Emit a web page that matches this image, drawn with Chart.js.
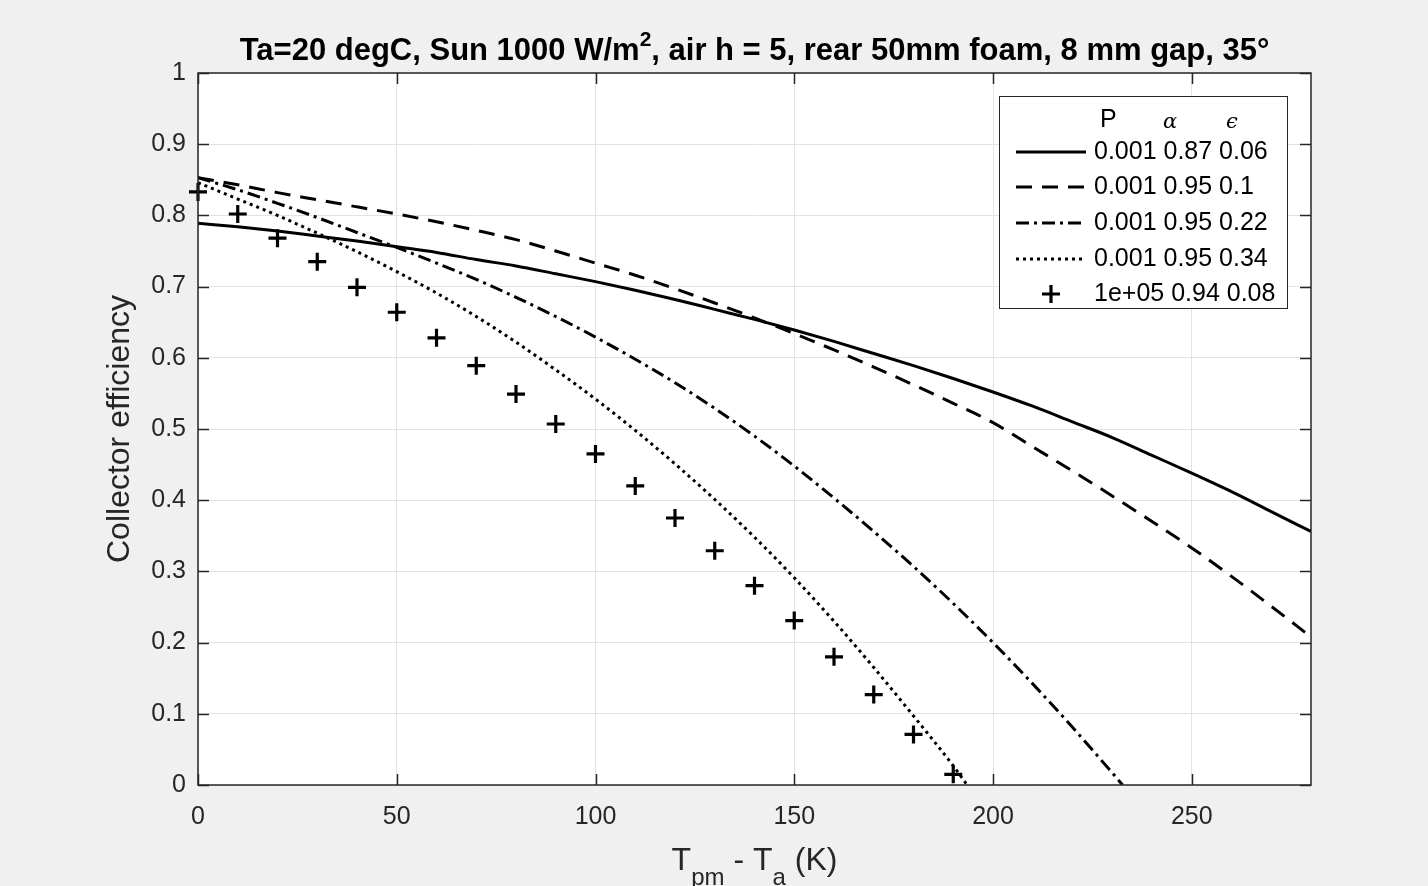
<!DOCTYPE html>
<html><head><meta charset="utf-8">
<script src="https://cdn.jsdelivr.net/npm/chart.js@4.4.1/dist/chart.umd.min.js"></script>
<style>html,body{margin:0;padding:0;background:#f0f0f0;overflow:hidden}</style>
</head><body>
<canvas id="c" width="1428" height="886"></canvas>
<script>
// ---- data ----
const tempDiff = [0,10,20,30,40,50,60,70,80,90,100,110,120,130,140,150,160,170,180,190,200,210,220,230,240,250,260,270,280];
const effSolid = [0.789,0.784,0.778,0.771,0.764,0.756,0.748,0.738,0.729,0.718,0.707,0.695,0.682,0.668,0.654,0.639,0.623,0.606,0.589,0.571,0.552,0.532,0.510,0.488,0.463,0.438,0.412,0.384,0.356];
const effDashed = [0.853,0.843,0.832,0.822,0.812,0.802,0.791,0.779,0.766,0.750,0.733,0.716,0.697,0.677,0.656,0.634,0.611,0.587,0.562,0.536,0.509,0.475,0.441,0.406,0.370,0.333,0.293,0.251,0.208];
const dashDotX = [0,10,20,30,40,50,60,70,80,90,100,110,120,130,140,150,160,170,180,190,200,210,220,230,232.6];
const effDashDot = [0.853,0.836,0.817,0.797,0.776,0.755,0.733,0.710,0.685,0.658,0.629,0.598,0.565,0.529,0.490,0.448,0.403,0.356,0.307,0.255,0.200,0.142,0.081,0.017,0.0];
const dottedX = [0,10,20,30,40,50,60,70,80,90,100,110,120,130,140,150,160,170,180,190,193.5];
const effDotted = [0.846,0.823,0.800,0.775,0.749,0.721,0.691,0.658,0.622,0.583,0.542,0.498,0.451,0.401,0.348,0.291,0.230,0.165,0.097,0.027,0.0];
const crossX = [0,10,20,30,40,50,60,70,80,90,100,110,120,130,140,150,160,170,180,190];
const effCross = [0.833,0.802,0.768,0.735,0.699,0.664,0.628,0.589,0.549,0.507,0.465,0.420,0.375,0.329,0.280,0.231,0.180,0.127,0.071,0.015];
const legendP = ['0.001','0.001','0.001','0.001','1e+05'];
const legendAlpha = ['0.87','0.95','0.95','0.95','0.94'];
const legendEps = ['0.06','0.1','0.22','0.34','0.08'];
const xTicks = [0,50,100,150,200,250];
const yTicks = [0,0.1,0.2,0.3,0.4,0.5,0.6,0.7,0.8,0.9,1];
const titleMain = 'Ta=20 degC, Sun 1000 W/m';
const titleSup = '2';
const titleRest = ', air h = 5, rear 50mm foam, 8 mm gap, 35°';
const yLabel = 'Collector efficiency';

const zip = (xs, ys) => xs.map((x, i) => ({x, y: ys[i]}));
const AX = '#262626';
const SANS = '"Liberation Sans", Arial, sans-serif';

const datasets = [
  {label:'s1', data: zip(tempDiff, effSolid), borderDash: []},
  {label:'s2', data: zip(tempDiff, effDashed), borderDash: [16, 10]},
  {label:'s3', data: zip(dashDotX, effDashDot), borderDash: [13, 5, 3, 5]},
  {label:'s4', data: zip(dottedX, effDotted), borderDash: [3, 4]},
].map(d => Object.assign({
  borderColor: '#000', backgroundColor: '#000', borderWidth: 3,
  pointRadius: 0, cubicInterpolationMode: 'monotone', fill: false
}, d));
datasets.push({
  label: 's5', data: zip(crossX, effCross), showLine: false,
  pointStyle: 'cross', pointRadius: 9, pointBorderWidth: 3.2,
  borderColor: '#000', backgroundColor: '#000', clip: false
});

const framePlugin = {
  id: 'frame',
  beforeDraw(chart) {
    const {ctx, chartArea: a} = chart;
    ctx.save();
    ctx.fillStyle = '#f0f0f0';
    ctx.fillRect(0, 0, chart.width, chart.height);
    ctx.fillStyle = '#ffffff';
    ctx.fillRect(a.left, a.top, a.right - a.left, a.bottom - a.top);
    ctx.restore();
  },
  afterDatasetsDraw(chart) {
    const {ctx, chartArea: a, scales} = chart;
    const xs = scales.x, ys = scales.y;
    ctx.save();
    ctx.strokeStyle = AX; ctx.lineWidth = 1.5;
    ctx.strokeRect(a.left, a.top, a.right - a.left, a.bottom - a.top);
    const tl = 11;
    ctx.beginPath();
    xTicks.forEach(v => {
      const px = Math.round(xs.getPixelForValue(v)) + 0.5;
      ctx.moveTo(px, a.bottom); ctx.lineTo(px, a.bottom - tl);
      ctx.moveTo(px, a.top); ctx.lineTo(px, a.top + tl);
    });
    yTicks.forEach(v => {
      const py = Math.round(ys.getPixelForValue(v)) + 0.5;
      ctx.moveTo(a.left, py); ctx.lineTo(a.left + tl, py);
      ctx.moveTo(a.right, py); ctx.lineTo(a.right - tl, py);
    });
    ctx.stroke();

    // legend
    const L = {x0: 999, y0: 96, x1: 1287, y1: 308};
    ctx.fillStyle = '#fff';
    ctx.fillRect(L.x0, L.y0, L.x1 - L.x0, L.y1 - L.y0);
    ctx.strokeStyle = AX; ctx.lineWidth = 1;
    ctx.strokeRect(L.x0 + 0.5, L.y0 + 0.5, L.x1 - L.x0, L.y1 - L.y0);
    ctx.fillStyle = '#000';
    ctx.textBaseline = 'middle';
    ctx.textAlign = 'left';
    ctx.font = '25px ' + SANS;
    ctx.fillText('P', 1100, 120);
    ctx.font = 'italic 21px "DejaVu Serif", "Liberation Serif", serif';
    ctx.fillText('α', 1163, 123);
    ctx.fillText('ϵ', 1226, 123);
    const rowY = [152, 187, 223, 259, 294];
    rowY.forEach((y, i) => {
      const ds = chart.data.datasets[i];
      ctx.save();
      ctx.strokeStyle = '#000';
      if (i < 4) {
        ctx.lineWidth = 3;
        ctx.setLineDash(ds.borderDash);
        ctx.beginPath(); ctx.moveTo(1016, y); ctx.lineTo(1086, y); ctx.stroke();
      } else {
        ctx.lineWidth = 3.2;
        ctx.beginPath();
        ctx.moveTo(1051 - 9, y); ctx.lineTo(1051 + 9, y);
        ctx.moveTo(1051, y - 9); ctx.lineTo(1051, y + 9);
        ctx.stroke();
      }
      ctx.restore();
      ctx.font = '25px ' + SANS;
      ctx.fillStyle = '#000';
      ctx.fillText(legendP[i] + ' ' + legendAlpha[i] + ' ' + legendEps[i], 1094, y);
    });
    ctx.restore();
  },
  afterDraw(chart) {
    const {ctx, chartArea: a} = chart;
    ctx.save();
    ctx.fillStyle = '#000';
    ctx.textBaseline = 'alphabetic';
    ctx.textAlign = 'left';
    const fMain = 'bold 31px ' + SANS;
    const fSup = 'bold 21px ' + SANS;
    ctx.font = fMain; const w1 = ctx.measureText(titleMain).width; const w3 = ctx.measureText(titleRest).width;
    ctx.font = fSup; const w2 = ctx.measureText(titleSup).width;
    const cx = (a.left + a.right) / 2;
    let x = cx - (w1 + w2 + w3) / 2;
    const by = 60;
    ctx.font = fMain; ctx.fillText(titleMain, x, by); x += w1;
    ctx.font = fSup; ctx.fillText(titleSup, x, by - 14); x += w2;
    ctx.font = fMain; ctx.fillText(titleRest, x, by);

    ctx.fillStyle = AX;
    const fL = '32px ' + SANS;
    const fS = '24px ' + SANS;
    const parts = [['T', fL, 0], ['pm', fS, 15], [' - T', fL, 0], ['a', fS, 15], [' (K)', fL, 0]];
    let tw = 0;
    parts.forEach(p => { ctx.font = p[1]; p.push(ctx.measureText(p[0]).width); tw += p[3]; });
    x = cx - tw / 2;
    const lb = 870;
    parts.forEach(p => { ctx.font = p[1]; ctx.fillText(p[0], x, lb + p[2]); x += p[3]; });

    ctx.translate(120, (a.top + a.bottom) / 2);
    ctx.rotate(-Math.PI / 2);
    ctx.textAlign = 'center';
    ctx.textBaseline = 'middle';
    ctx.font = '32px ' + SANS;
    ctx.fillText(yLabel, 0, 0);
    ctx.restore();
  }
};

new Chart(document.getElementById('c'), {
  type: 'line',
  data: { datasets },
  options: {
    responsive: false, animation: false, devicePixelRatio: 1,
    layout: { padding: { left: 0, top: 73, right: 117, bottom: 41 } },
    plugins: { legend: { display: false }, title: { display: false }, tooltip: { enabled: false } },
    scales: {
      x: {
        type: 'linear', min: 0, max: 280,
        afterBuildTicks: s => { s.ticks = xTicks.map(v => ({value: v})); },
        afterFit: s => { s.height = 60; },
        ticks: { color: AX, font: { size: 25, family: SANS }, padding: 17, maxRotation: 0 },
        grid: { color: '#e3e3e3', lineWidth: 1, drawTicks: false },
        border: { display: false }
      },
      y: {
        type: 'linear', min: 0, max: 1,
        afterBuildTicks: s => { s.ticks = yTicks.map(v => ({value: v})); },
        afterFit: s => { s.width = 198; },
        ticks: { color: AX, font: { size: 25, family: SANS }, padding: 12,
          callback: v => (v === 0 || v === 1) ? String(v) : v.toFixed(1) },
        grid: { color: '#e3e3e3', lineWidth: 1, drawTicks: false },
        border: { display: false }
      }
    }
  },
  plugins: [framePlugin]
});
</script>
</body></html>
